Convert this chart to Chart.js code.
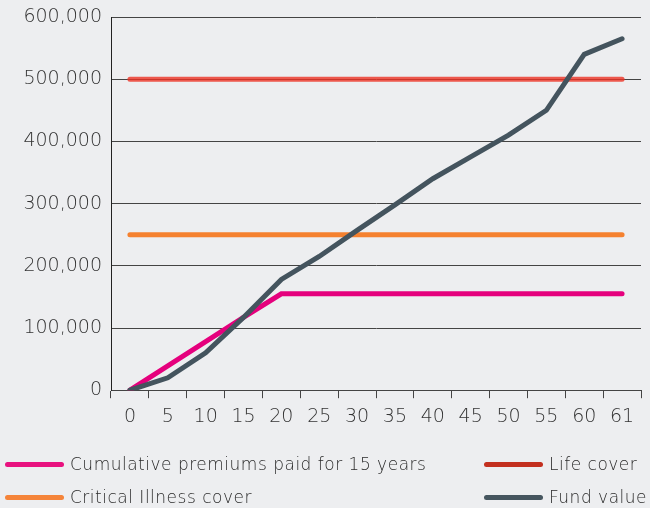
<!DOCTYPE html>
<html>
<head>
<meta charset="utf-8">
<script src="https://cdn.jsdelivr.net/npm/chart.js@4.4.1/dist/chart.umd.min.js"></script>
<style>
  html, body { margin: 0; padding: 0; background: #edeef0; }
  #wrap { position: relative; width: 650px; height: 508px; }
  #legend { position: absolute; left: 0; top: 450px; width: 650px; font-family: "DejaVu Sans", sans-serif; font-weight: 200; font-size: 17px; letter-spacing: 0.5px; color: #2b2b2b; }
  .item { position: absolute; white-space: nowrap; line-height: 20px; }
  .item span.sw { display: inline-block; width: 59px; height: 5px; border-radius: 3px; vertical-align: middle; margin-right: 6px; position: relative; top: -1px; }
</style>
</head>
<body>
<div id="wrap">
  <canvas id="chart" width="650" height="508"></canvas>
  <div id="legend"></div>
</div>
<script>
const years = ['0', '5', '10', '15', '20', '25', '30', '35', '40', '45', '50', '55', '60', '61'];
const premiums = [0, 39000, 78000, 117000, 155000, 155000, 155000, 155000, 155000, 155000, 155000, 155000, 155000, 155000];
const lifeCover = [500000, 500000, 500000, 500000, 500000, 500000, 500000, 500000, 500000, 500000, 500000, 500000, 500000, 500000];
const criticalIllness = [250000, 250000, 250000, 250000, 250000, 250000, 250000, 250000, 250000, 250000, 250000, 250000, 250000, 250000];
const fundValue = [0, 20000, 60000, 117000, 178000, 215000, 257000, 298000, 340000, 375000, 410000, 450000, 540000, 565000];

const fontFamily = '"DejaVu Sans", sans-serif';

const datasets = [
    { label: 'Cumulative premiums paid for 15 years', data: premiums, borderColor: '#e5007d', legendColor: '#e8127f', order: 2 },
    { label: 'Life cover', data: lifeCover, borderColor: 'rgba(236, 50, 36, 0.8)', legendColor: '#c3301f', order: 3 },
    { label: 'Critical Illness cover', data: criticalIllness, borderColor: '#f5812f', legendColor: '#f5843a', order: 4 },
    { label: 'Fund value', data: fundValue, borderColor: '#44545e', legendColor: '#46565f', order: 1 }
];

// wide, airy tick lettering
const spacing = {
    id: 'spacing',
    beforeInit(chart) { chart.ctx.letterSpacing = '2.1px'; }
};

const ctx = document.getElementById('chart').getContext('2d');
new Chart(ctx, {
    type: 'line',
    data: {
        labels: years,
        datasets: datasets.map(d => ({
            label: d.label,
            data: d.data,
            borderColor: d.borderColor,
            backgroundColor: d.borderColor,
            borderWidth: 5,
            pointRadius: 0,
            borderCapStyle: 'round',
            borderJoinStyle: 'miter',
            tension: 0,
            fill: false,
            order: d.order
        }))
    },
    options: {
        responsive: false,
        animation: false,
        layout: { padding: { left: 9, right: 9, top: 17, bottom: 73 } },
        plugins: {
            legend: { display: false },
            tooltip: { enabled: false }
        },
        scales: {
            x: {
                offset: true,
                grid: { display: true, drawOnChartArea: false, color: '#444', tickLength: 8, offset: true },
                border: { display: true, color: '#444' },
                ticks: { color: '#333', font: { family: fontFamily, size: 19, weight: 200 }, padding: 7, maxRotation: 0, autoSkip: false }
            },
            y: {
                min: 0,
                max: 600000,
                grid: { color: '#444', drawTicks: false },
                border: { display: true, color: '#222' },
                afterFit(scale) {
                    scale.width = 102;
                    scale.paddingTop = 0;
                },
                ticks: {
                    stepSize: 100000,
                    color: '#333',
                    padding: 9,
                    font: { family: fontFamily, size: 19, weight: 200 },
                    callback: v => v.toLocaleString('en-US')
                }
            }
        }
    },
    plugins: [spacing]
});

// legend laid out in two columns like the original
const legendPos = [
    { left: 5, top: 4 },
    { left: 484, top: 4 },
    { left: 5, top: 37 },
    { left: 484, top: 37 }
];
const legend = document.getElementById('legend');
datasets.forEach((d, i) => {
    const el = document.createElement('div');
    el.className = 'item';
    el.style.left = legendPos[i].left + 'px';
    el.style.top = legendPos[i].top + 'px';
    el.innerHTML = '<span class="sw" style="background:' + d.legendColor + '"></span>' + d.label;
    legend.appendChild(el);
});
</script>
</body>
</html>
